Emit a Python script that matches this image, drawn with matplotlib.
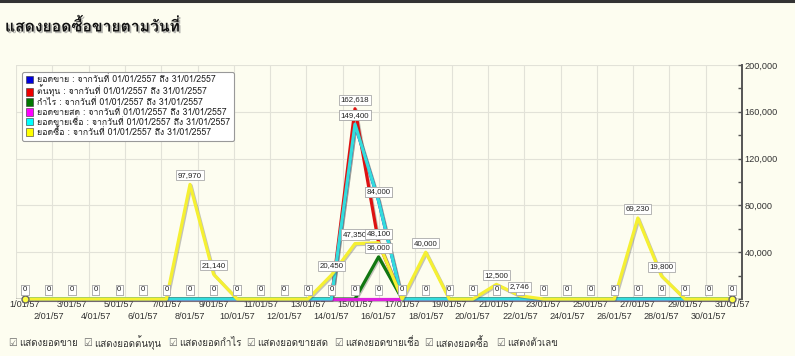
import matplotlib
matplotlib.use("Agg")
import matplotlib.pyplot as plt
import matplotlib.patheffects as pe
from matplotlib.patches import Patch
from matplotlib.lines import Line2D
from matplotlib.ticker import FuncFormatter, MultipleLocator
from matplotlib import font_manager
from matplotlib.ft2font import FT2Font
import numpy as np

# Data (January 2557, daily values)
days = list(range(1, 32))
day_labels = [f"{d}/01/57" for d in days]

sales = [0, 0, 0, 0, 0, 0, 0, 0, 0, 0, 0, 0, 0, 0, 149400, 84000,
         0, 0, 0, 0, 0, 0, 0, 0, 0, 0, 0, 0, 0, 0, 0]
cost = [0, 0, 0, 0, 0, 0, 0, 0, 0, 0, 0, 0, 0, 0, 162618, 48000,
        0, 0, 0, 0, 0, 0, 0, 0, 0, 0, 0, 0, 0, 0, 0]
profit = [0, 0, 0, 0, 0, 0, 0, 0, 0, 0, 0, 0, 0, 0, 0, 36000,
          0, 0, 0, 0, 0, 0, 0, 0, 0, 0, 0, 0, 0, 0, 0]
cash_sales = [0] * 31
credit_sales = [0, 0, 0, 0, 0, 0, 0, 0, 0, 0, 0, 0, 0, 0, 149400, 84000,
                0, 0, 0, 0, 0, 0, 0, 0, 0, 0, 0, 0, 0, 0, 0]
purchases = [0, 0, 0, 0, 0, 0, 0, 97970, 21140, 0, 0, 0, 0, 20450, 47350, 48100,
             0, 40000, 0, 0, 12500, 2746, 0, 0, 0, 0, 69230, 19800, 0, 0, 0]

period = " : จากวันที่ 01/01/2557 ถึง 31/01/2557"
series_names = ["ยอดขาย", "ต้นทุน", "กำไร", "ยอดขายสด", "ยอดขายเชื่อ", "ยอดซื้อ"]
series_values = [sales, cost, profit, cash_sales, credit_sales, purchases]
legend_colors = ["#0000dd", "#ee0000", "#007700", "#ff00ff", "#00ffff", "#ffff00"]
line_colors = ["#1111cc", "#dd1111", "#117711", "#dd22dd", "#33dddd", "#f5f032"]

options = ["แสดงยอดขาย", "แสดงยอดต้นทุน", "แสดงยอดกำไร", "แสดงยอดขายสด",
           "แสดงยอดขายเชื่อ", "แสดงยอดซื้อ", "แสดงตัวเลข"]
option_x = [19, 94, 179, 257, 345, 435, 507]


# find a font that has Thai glyphs
def find_thai_font():
    for f in font_manager.fontManager.ttflist:
        try:
            cmap = FT2Font(f.fname).get_charmap()
        except Exception:
            continue
        if 0x0E2A in cmap and 0x0E14 in cmap:
            return f.name
    return None


thai = find_thai_font()
fams = ([thai] if thai else []) + ["Liberation Sans", "DejaVu Sans"]
plt.rcParams["font.family"] = fams

bg = "#fdfdf0"
fig = plt.figure(figsize=(7.95, 3.56), dpi=100, facecolor=bg)
W, H = 795, 356
ax = fig.add_axes([16 / W, 1 - 299 / H, (742 - 16) / W, (299 - 65) / H])
ax.set_facecolor(bg)

# Lines
shadow = [pe.SimpleLineShadow(offset=(0.8, -0.8), shadow_color="#555555", alpha=0.35), pe.Normal()]
for vals, c in zip(series_values, line_colors):
    ax.plot(days, vals, color=c, linewidth=2.3, solid_joinstyle="round",
            path_effects=shadow, zorder=3, clip_on=False)
ax.plot([days[0], days[-1]], [purchases[0], purchases[-1]], "o", color="#ffff44",
        markeredgecolor="#666666", markersize=5, zorder=4, clip_on=False)

# Value labels
for vals in series_values:
    for d, v in zip(days, vals):
        ax.annotate(f"{v:,}", (d, v), xytext=(0, 6.5), textcoords="offset points",
                    ha="center", va="center", fontsize=5.7, color="#222222",
                    family=["Liberation Sans", "DejaVu Sans"], zorder=5,
                    bbox=dict(boxstyle="square,pad=0.2", fc="white", ec="#aaaaaa", lw=0.6))

# Axes
ax.set_xlim(0.618, 31.42)
ax.set_ylim(0, 200000)
ax.set_xticks(days)
ax.set_xticklabels([lab if d % 2 else "\n" + lab for d, lab in zip(days, day_labels)],
                   fontsize=6.6, color="#333333", linespacing=1.35,
                   family=["Liberation Sans", "DejaVu Sans"])
ax.tick_params(axis="x", length=0, pad=1)
ax.yaxis.tick_right()
ax.yaxis.set_major_locator(MultipleLocator(40000))
ax.yaxis.set_minor_locator(MultipleLocator(20000))
ax.yaxis.set_major_formatter(FuncFormatter(lambda v, p: "" if v == 0 else f"{int(v):,}"))
ax.tick_params(axis="y", which="both", direction="in", length=3, width=1,
               color="#555555", labelsize=6.6, labelcolor="#333333", pad=2)
for lab in ax.get_yticklabels():
    lab.set_family(["Liberation Sans", "DejaVu Sans"])

for s in ["top", "left", "bottom"]:
    ax.spines[s].set_visible(False)
ax.spines["right"].set_color("#555555")
ax.spines["right"].set_linewidth(1.4)

# grid: 20 vertical divisions, horizontal every 40,000
for gx in np.linspace(0.618, 31.42, 21)[:-1]:
    ax.axvline(gx, color="#e2e2d8", lw=0.8, zorder=1)
ax.grid(axis="y", color="#e2e2d8", lw=0.8, zorder=1)
ax.axhline(0, color="#333333", lw=1, zorder=2)

# Legend
handles = [Patch(facecolor=c, edgecolor="#333333", linewidth=0.4) for c in legend_colors]
leg = ax.legend(handles, [n + period for n in series_names],
                loc="upper left", bbox_to_anchor=(22 / W, 1 - 72 / H),
                bbox_transform=fig.transFigure, fontsize=6.3, frameon=True,
                fancybox=True, edgecolor="#999999", facecolor="white", framealpha=1,
                handlelength=0.85, handleheight=0.95, handletextpad=0.5,
                labelspacing=0.08, borderpad=0.4, borderaxespad=0)
leg.get_frame().set_linewidth(0.8)
leg.set_zorder(6)
for t in leg.get_texts():
    t.set_color("#222222")

# Title
fig.text(5 / W, 1 - 26 / H, "แสดงยอดซื้อขายตามวันที่", fontsize=11.3, fontweight="bold",
         color="#111111", va="center", ha="left",
         path_effects=[pe.withSimplePatchShadow(offset=(1.2, -1.2), shadow_rgbFace="#888888", alpha=0.6)])

# top border
fig.add_artist(Line2D([0, 1], [1 - 1 / H, 1 - 1 / H], color="#333333", lw=2.2,
                      transform=fig.transFigure))

# checkbox row
for txt, x in zip(options, option_x):
    fig.text((x - 11) / W, 1 - 343 / H, "☑", fontsize=7, color="#666666",
             va="center", ha="left", family=["DejaVu Sans"])
    fig.text(x / W, 1 - 343 / H, txt, fontsize=7.0, color="#333333", va="center", ha="left")

fig.savefig("out.png", dpi=100, facecolor=bg)
